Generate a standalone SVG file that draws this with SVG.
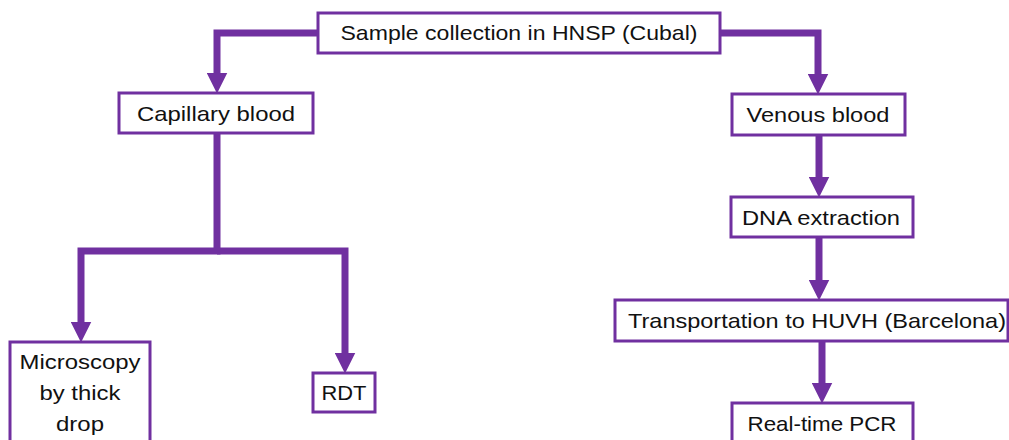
<svg xmlns="http://www.w3.org/2000/svg" width="1009" height="440" viewBox="0 0 1009 440">
<style>
.box{fill:#fff;stroke:#7030A0;stroke-width:3}
.t{font-family:"Liberation Sans",Arial,sans-serif;font-size:21px;fill:#111;text-anchor:middle}
.c{fill:none;stroke:#7030A0;stroke-width:7;stroke-linejoin:miter}
</style>
<defs>
<marker id="ah" viewBox="0 0 20 20" markerUnits="userSpaceOnUse" markerWidth="21" markerHeight="21" refX="10" refY="10" orient="auto">
<path d="M0,0 L20,10 L0,20 z" fill="#7030A0"/>
</marker>
</defs>
<rect width="1009" height="440" fill="#fff"/>
<g id="connectors">
<path class="c" d="M320,33 H217 V83" marker-end="url(#ah)"/>
<path class="c" d="M718,33 H818 V84" marker-end="url(#ah)"/>
<path class="c" d="M217,134 V251 H81 V332" marker-end="url(#ah)"/>
<path class="c" d="M217,251 H345 V363" marker-end="url(#ah)"/>
<path class="c" d="M819,135 V187" marker-end="url(#ah)"/>
<path class="c" d="M819,237 V290" marker-end="url(#ah)"/>
<path class="c" d="M822,341 V393" marker-end="url(#ah)"/>
</g>
<g id="n-sample">
<rect class="box" x="318" y="13" width="402" height="40"/>
<text class="t" x="519" y="40" textLength="357" lengthAdjust="spacingAndGlyphs">Sample collection in HNSP (Cubal)</text>
</g>
<g id="n-capillary">
<rect class="box" x="119" y="93" width="194" height="40"/>
<text class="t" x="216" y="121" textLength="158" lengthAdjust="spacingAndGlyphs">Capillary blood</text>
</g>
<g id="n-venous">
<rect class="box" x="732" y="94" width="173" height="41"/>
<text class="t" x="818" y="122" textLength="143" lengthAdjust="spacingAndGlyphs">Venous blood</text>
</g>
<g id="n-dna">
<rect class="box" x="731" y="197" width="182" height="40"/>
<text class="t" x="821" y="225" textLength="158" lengthAdjust="spacingAndGlyphs">DNA extraction</text>
</g>
<g id="n-transport">
<rect class="box" x="615" y="300" width="393" height="41"/>
<text class="t" x="817" y="328" textLength="378" lengthAdjust="spacingAndGlyphs">Transportation to HUVH (Barcelona)</text>
</g>
<g id="n-pcr">
<rect class="box" x="732" y="403" width="181" height="42"/>
<text class="t" x="822" y="431" textLength="149" lengthAdjust="spacingAndGlyphs">Real-time PCR</text>
</g>
<g id="n-microscopy">
<rect class="box" x="10" y="342" width="140" height="110"/>
<text class="t" x="80" y="369" textLength="121" lengthAdjust="spacingAndGlyphs">Microscopy</text>
<text class="t" x="80" y="400" textLength="81" lengthAdjust="spacingAndGlyphs">by thick</text>
<text class="t" x="80" y="431" textLength="48" lengthAdjust="spacingAndGlyphs">drop</text>
</g>
<g id="n-rdt">
<rect class="box" x="313" y="373" width="62" height="39"/>
<text class="t" x="344" y="400" textLength="45" lengthAdjust="spacingAndGlyphs">RDT</text>
</g>
</svg>
